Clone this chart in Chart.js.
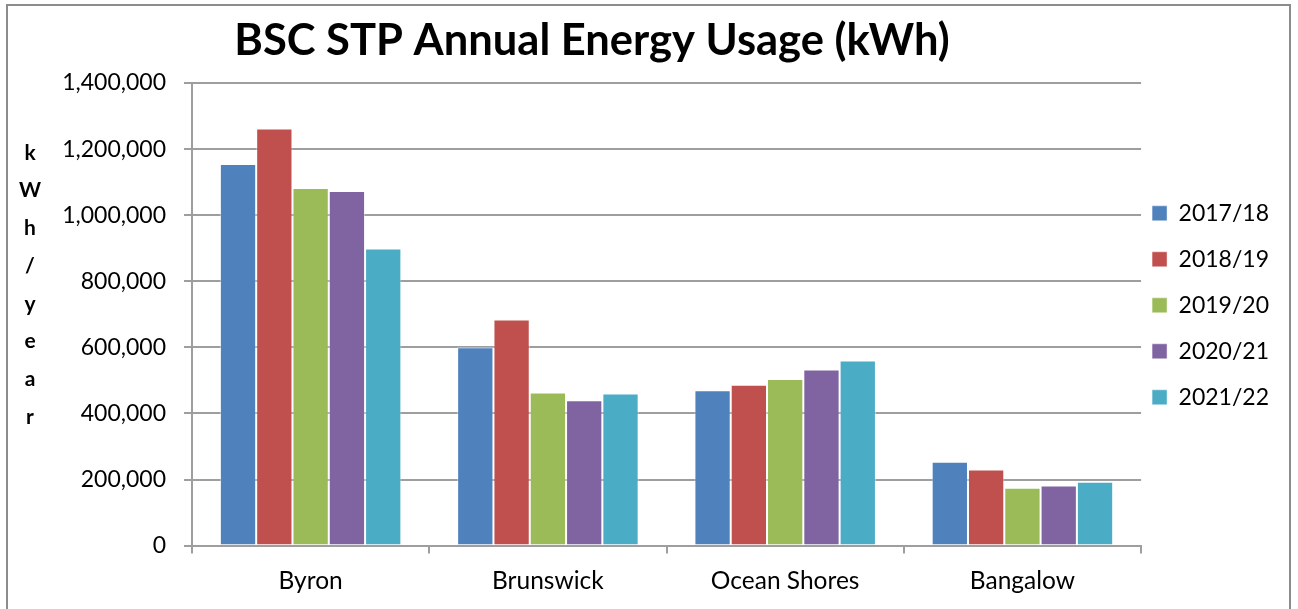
<!DOCTYPE html>
<html>
<head>
<meta charset="utf-8">
<script src="https://cdn.jsdelivr.net/npm/chart.js@4.4.1/dist/chart.umd.min.js"></script>
<style>
  html, body { margin: 0; padding: 0; background: #fff; overflow: hidden; }
  #wrap { position: absolute; left: 0; top: 0; width: 1298px; height: 609px; }
  #frame { position: absolute; left: 6px; top: 4px; width: 1285px; height: 620px;
           border: 2px solid #8c8c8c; box-sizing: border-box; pointer-events: none; }
</style>
</head>
<body>
<div id="wrap"><canvas id="myChart" width="1298" height="609"></canvas></div>
<div id="frame"></div>
<script>
const categories = ["Byron", "Brunswick", "Ocean Shores", "Bangalow"];
const seasons = ["2017/18", "2018/19", "2019/20", "2020/21", "2021/22"];
const usage1718 = [1155000, 600000, 470000, 254000];
const usage1819 = [1262000, 684000, 487000, 230000];
const usage1920 = [1082000, 463000, 504000, 175000];
const usage2021 = [1073000, 440000, 533000, 182000];
const usage2122 = [899000, 460000, 560000, 193000];
const yTickValues = [0, 200000, 400000, 600000, 800000, 1000000, 1200000, 1400000];
const yAxisTitle = ["k", "W", "h", "/", "y", "e", "a", "r"];
const chartTitle = "BSC STP Annual Energy Usage (kWh)";

const colors = ["#4F81BD", "#C0504D", "#9BBB59", "#8064A2", "#4BACC6"];
const seriesValues = [usage1718, usage1819, usage1920, usage2021, usage2122];
const FONT = "Lato, 'Noto Sans', sans-serif";

// title and the stacked y-axis letters are drawn by hand
const extraText = {
  id: 'extraText',
  afterLayout(chart) {
    // pull the legend a bit closer to the plot and slightly up
    const lg = chart.legend;
    lg.left -= 12; lg.right -= 12;
    lg.top -= 9; lg.bottom -= 9;
  },
  afterDraw(chart) {
    const ctx = chart.ctx;
    const area = chart.chartArea;
    ctx.save();
    ctx.fillStyle = '#000';
    ctx.font = "bold 43.5px " + FONT;
    ctx.textAlign = 'center';
    ctx.textBaseline = 'alphabetic';
    ctx.fillText(chartTitle, 592, 55);

    ctx.font = "bold 21px " + FONT;
    ctx.textBaseline = 'middle';
    yAxisTitle.forEach((ch, i) => {
      ctx.fillText(ch, 30, area.top + 70 + i * 37.7);
    });
    ctx.restore();
  }
};

const data = {
  labels: categories,
  datasets: seasons.map((s, i) => ({
    label: s,
    data: seriesValues[i],
    backgroundColor: colors[i],
    borderColor: 'rgba(255,255,255,0.45)',
    borderWidth: 1,
    categoryPercentage: 0.765,
    barPercentage: 1.0
  }))
};

new Chart(document.getElementById('myChart'), {
  type: 'bar',
  data: data,
  plugins: [extraText],
  options: {
    responsive: false,
    animation: false,
    layout: { padding: { top: 83, left: 0, right: 7, bottom: 0 } },
    plugins: {
      title: { display: false },
      tooltip: { enabled: false },
      legend: {
        position: 'right',
        fullSize: false,
        labels: {
          boxWidth: 15,
          boxHeight: 15,
          padding: 23,
          color: '#000',
          font: { family: FONT, size: 23 }
        }
      }
    },
    scales: {
      x: {
        grid: { drawOnChartArea: false, offset: true, tickLength: 8, color: '#9e9e9e', lineWidth: 2 },
        border: { color: '#9e9e9e', width: 2 },
        ticks: { color: '#000', padding: 13, font: { family: FONT, size: 24.5 } }
      },
      y: {
        min: 0,
        max: 1400000,
        afterFit(scale) { scale.width = 192; },
        afterBuildTicks(scale) { scale.ticks = yTickValues.map(v => ({ value: v })); },
        grid: { color: '#9e9e9e', lineWidth: 2, tickLength: 8 },
        border: { color: '#9e9e9e', width: 2 },
        ticks: {
          color: '#000',
          padding: 18,
          font: { family: FONT, size: 23 },
          callback: v => Number(v).toLocaleString('en-US')
        }
      }
    }
  }
});
</script>
</body>
</html>
